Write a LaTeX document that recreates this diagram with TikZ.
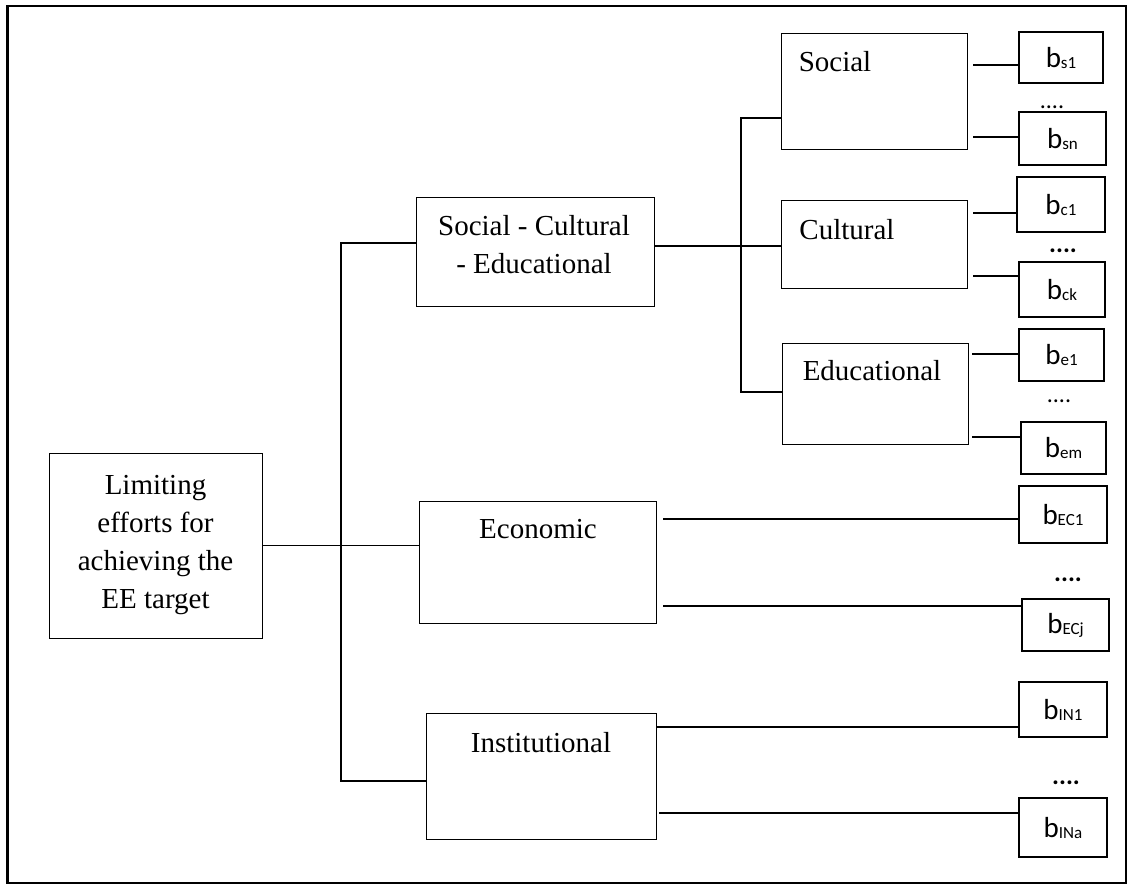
\documentclass[tikz,border=0pt]{standalone}
\usepackage{fontspec}
\setmainfont{Liberation Serif}
\newfontfamily\carlito{Carlito}
\usetikzlibrary{calc}
\newcommand\bsub[1]{b\raisebox{-1pt}{\fontsize{17}{19}\selectfont #1}}
\begin{document}
\begin{tikzpicture}[x=1pt,y=-1pt,
  box/.style={draw, line width=1pt, inner sep=0pt, outer sep=0pt},
  bbox/.style={draw, line width=1.8pt, inner sep=0pt, outer sep=0pt, font=\carlito\fontsize{29}{32}\selectfont},
  lbl/.style={font=\fontsize{29}{38}\selectfont, inner sep=0pt, anchor=base},
  dotsA/.style={font=\carlito\fontsize{24}{28}\selectfont, inner sep=0pt, anchor=base},
  dotsB/.style={font=\carlito\bfseries\fontsize{26}{28}\selectfont, inner sep=0pt, anchor=base},
  link/.style={line width=1.5pt}]
\useasboundingbox (0,0) rectangle (1132,888);
\draw[line width=2.5pt] (7.5,6) rectangle (1126,883);

% main boxes
\node[box, align=center, font=\fontsize{29}{38}\selectfont, minimum width=213pt, minimum height=185pt] (root) at (155.5,545.5)
  {Limiting\\efforts for\\achieving the\\EE target};
\node[box, minimum width=238pt, minimum height=109pt] (sce) at (535,251.5) {};
\node[box, minimum width=186pt, minimum height=115pt] (soc) at (874,91.5) {};
\node[box, minimum width=186pt, minimum height=88pt] (cul) at (874,244) {};
\node[box, minimum width=186pt, minimum height=101pt] (edu) at (875,393.5) {};
\node[box, minimum width=237pt, minimum height=122pt] (eco) at (537.5,562) {};
\node[box, minimum width=230pt, minimum height=126pt] (inst) at (541,776) {};

% labels
\node[lbl] (sceT1) at (534,235) {Social - Cultural};
\node[lbl] (sceT2) at (534,273) {- Educational};
\node[lbl] (socT) at (835,72) {Social};
\node[lbl] (culT) at (847,239) {Cultural};
\node[lbl] (eduT) at (872,380) {Educational};
\node[lbl] (ecoT) at (538,538) {Economic};
\node[lbl] (instT) at (541,752) {Institutional};

% b boxes
\node[bbox, minimum width=84pt, minimum height=51pt] (bs1) at (1061,57.5) {\bsub{s1}};
\node[bbox, minimum width=87pt, minimum height=53pt] (bsn) at (1062.5,138.5) {\bsub{sn}};
\node[bbox, minimum width=88pt, minimum height=55pt] (bc1) at (1061,204.5) {\bsub{c1}};
\node[bbox, minimum width=86pt, minimum height=55pt] (bck) at (1062,289.5) {\bsub{ck}};
\node[bbox, minimum width=85pt, minimum height=52pt] (be1) at (1061.5,355) {\bsub{e1}};
\node[bbox, minimum width=85pt, minimum height=52pt] (bem) at (1063.5,448) {\bsub{em}};
\node[bbox, minimum width=88pt, minimum height=57pt] (bEC1) at (1063,514.5) {\bsub{EC1}};
\node[bbox, minimum width=87pt, minimum height=52pt] (bECj) at (1065.5,625) {\bsub{ECj}};
\node[bbox, minimum width=88pt, minimum height=55pt] (bIN1) at (1063,709.5) {\bsub{IN1}};
\node[bbox, minimum width=88pt, minimum height=59pt] (bINa) at (1063,827.5) {\bsub{INa}};

% dots
\node[dotsA] (d1) at (1052,109) {....};
\node[dotsB] (d2) at (1063,252) {....};
\node[dotsA] (d3) at (1059,402) {....};
\node[dotsB] (d4) at (1068,581) {....};
\node[dotsB] (d5) at (1066,784) {....};

% connectors
\coordinate (tTop) at (341,243);
\coordinate (tBot) at (341,781);
\coordinate (sTop) at (741,118);
\coordinate (sBot) at (741,392);
\draw[link] (root.east) -- (root.east -| eco.west);
\draw[link] (sce.west |- tTop) -- (tTop) -- (tBot) -- (inst.west |- tBot);
\draw[line width=1.1pt] (sce.east |- 0,246) -- (cul.west |- 0,246);
\draw[link] (soc.west |- sTop) -- (sTop) -- (sBot) -- (edu.west |- sBot);
\foreach \src/\dst/\yy/\dx in {soc/bs1/65/6, soc/bsn/137/6, cul/bc1/213/6, cul/bck/276/6,
  edu/be1/354/4, edu/bem/437/4, eco/bEC1/519/7, eco/bECj/606/7, inst/bIN1/727/0, inst/bINa/813/3}
  \draw[link] ($(\src.east |- 0,\yy)+(\dx,0)$) -- (\dst.west |- 0,\yy);
\end{tikzpicture}
\end{document}
